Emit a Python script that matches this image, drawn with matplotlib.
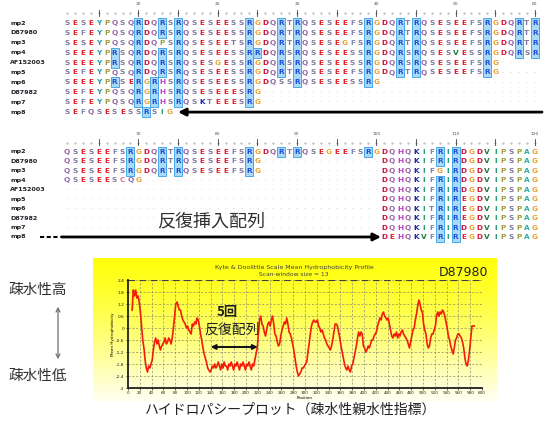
import numpy as np
import matplotlib.pyplot as plt
from matplotlib.patches import Rectangle

plt.rcParams['font.family'] = ['DejaVu Sans']
JP = ['Noto Sans CJK JP', 'DejaVu Sans']

W, H = 544, 421

# ---- alignment data ----
names = ['mp2', 'D87980', 'mp3', 'mp4', 'AF152003', 'mp5', 'mp6', 'D87982', 'mp7', 'mp8']

block1 = [
    "SESEYPQSQRDQRSRQSESEESSRGDQRTRQSESEEFSRGDQRTRQSESEEFSRGDQRTR",
    "SEFEYPQSQRDQRSRQSESEESSRGDQRTRQSESEEFSRGDQRTRQSESEEFSRGDQRTR",
    "SESEYPQSQRDQPSRQSESEETSRGDQRTRQSESEGFSRGDQRTRQSESEEFSRGDQRTR",
    "SEEEYPRSQRDQRSRQSESEESSRRDQRSRQSESEESSRGDQRSRQSESVESSRGDQRSR",
    "SEEEYPRSQRDQRSRQSESGESSRGDQRSRQSESEESSRGDQRSRQSESEEFSRG.....",
    "SEFEYPQSQRDQRSRQSESEESSRGDQRTRQSESEEFSRGDQRTRQSESEEFSRG.....",
    "SEEEYPRSERGRHSRQSESEESSRGDQSSRQSESEESSRG....................",
    "SEFEYPQSQRGRHSRQSESEEESRG...................................",
    "SEFEYPQSQRGRHSRQSKTEEESRG...................................",
    "SEFQSESESSRSIG",
]

block2 = [
    "QSESEEFSRGDQRTRQSESEEFSRGDQRTRQSEGEEFSRGDQHQKIFRIRDGDVIPSPAG",
    "QSESEEFSRGDQRTRQSESEEFSRG...............DQHQKIFRIRDGDVIPSPAG",
    "QSESEEFSRGDQRTRQSESEEFSRG...............DQHQKIFGIRDGDVIPSPAG",
    "QSESEESCQG..............................DQHQKIFRIRDGDVIPSPAG",
    "........................................DQHQKIFRIRDGDVIPSPAG",
    "........................................DQHQKIFRIREGDVIPSPAG",
    "........................................DQHQKITRIREGDVIPSPAG",
    "........................................DQHQKIFRIREGDVIPSPAG",
    "........................................DQHQKIFRIRDGDVIPSPAG",
    "                                        DEHQKVFRIREGDVIPSPAG",
]

residue_colors = {
    'S': '#7c7c9c', 'T': '#7c7c9c', 'Q': '#9468a8', 'N': '#9468a8',
    'E': '#e41f2a', 'D': '#d2123c', 'R': '#1f4fd6', 'K': '#1a24a8',
    'H': '#c23ec8', 'G': '#e9a232', 'P': '#9aa03c', 'Y': '#1f9ea0',
    'F': '#7f86aa', 'I': '#1f9e74', 'V': '#1f7c40', 'A': '#2eb09c',
    'C': '#e0708e',
}

# ---- hydrophobicity profile (Kyte & Doolittle, window 13) ----
profile_val = [
    0.9, 1.9, 1.6, 1.9, 1.5, 1.6, 1.3, 0.8, 0.1, -0.6,
    -1.0, -1.6, -2.0, -2.2, -1.9, -2.0, -1.8, -1.6, -1.1, -0.7,
    -0.5, -0.8, -0.6, -0.9, -1.1, -0.9, -0.8, -0.7, -0.5, -0.8,
    -0.7, -0.5, -0.6, -0.8, -0.5, 0.0, 0.6, 1.2, 1.3, 1.1,
    0.9, 0.9, 0.6, 0.4, 0.3, 0.2, 0.0, 0.1, -0.1, -0.2,
    -0.3, 0.2, 0.1, 0.3, 0.2, 0.5, 0.4, 0.1, -0.3, -0.6,
    -1.0, -1.3, -1.5, -1.7, -2.0, -2.1, -2.2, -2.1, -1.9, -2.0,
    -1.8, -2.0, -1.9, -1.7, -1.9, -2.1, -1.8, -2.0, -1.7, -1.9,
    -1.9, -2.1, -1.8, -1.9, -1.7, -1.9, -2.1, -1.8, -1.9, -1.7,
    -1.9, -2.1, -1.8, -1.9, -1.7, -1.9, -2.1, -1.8, -1.9, -1.7,
    -1.9, -2.1, -1.8, -1.9, -1.6, -1.3, -1.0, -0.3, 0.4, 0.6,
    0.2, 0.1, -0.2, -0.4, -0.1, 0.2, 0.3, 0.1, 0.4, 0.6,
    0.2, -0.3, -0.4, -0.7, -0.9, -0.8, -0.4, -0.1, 0.1, 0.3,
    0.2, 0.5, 0.2, -0.2, -0.3, -0.5, -0.8, -1.1, -1.5, -1.9,
    -2.2, -2.4, -2.3, -2.2, -2.0, -2.0, -1.9, -1.8, -1.7, -1.2,
    -0.8, -0.3, 0.1, 0.3, 0.4, 0.3, 0.3, 0.4, 0.1, 0.0,
    -0.2, -0.1, -0.3, -0.5, -0.6, -0.8, -0.9, -1.0, -1.1, -0.9,
    -0.6, -0.2, 0.2, 0.2, 0.1, -0.2, -0.5, -0.9, -1.2, -1.5,
    -1.8, -2.0, -2.1, -1.9, -2.1, -2.2, -1.9, -1.8, -1.5, -1.2,
    -0.9, -0.5, -0.2, -0.4, -0.2, -0.3, -0.9, -1.0, -1.2, -1.1,
    -0.9, -1.0, -0.8, -0.6, -0.6, -0.4, -0.3, -0.2, 0.1, 0.3,
    0.5, 0.4, 0.7, 0.8, 0.6, 0.5, 0.4, 0.5, 0.2, -0.1,
    -0.4, -0.5, -0.3, -0.4, -0.2, -0.5, -0.3, -0.4, -0.2, -0.1,
    -0.3, -0.4, -0.5, -0.6, -0.8, -1.0, -0.7, -0.4, -0.1, 0.0,
    0.4, 0.7, 1.1, 1.4, 1.2, 0.9, 0.8, 0.2, -0.1, -0.3,
    -0.8, -1.0, -0.9, -0.5, -0.3, -0.3, -0.1, 0.1, 0.6, 0.8,
    0.6, 0.8, 0.7, 0.9, 0.8, 0.6, 0.3, 0.0, -0.4, -0.6,
    -0.9, -1.1, -1.3, -1.0, -0.6, -0.5, -0.3, -0.3, -0.4, -0.5,
    -0.7, -1.0, -1.5, -1.8, -1.9, -1.6, -1.1, -0.5, 0.1, 0.1,
    0.1,
]
profile_pos = np.arange(7, 7 + 2 * len(profile_val), 2)
x_ticks = np.arange(0, 601, 20)
y_ticks = [-3.0, -2.4, -1.8, -1.2, -0.6, 0, 0.6, 1.2, 1.8, 2.4]

fig = plt.figure(figsize=(W / 100, H / 100), dpi=100)
fig.patch.set_facecolor('white')


def px_axes(x0, y0, x1, y1):
    return fig.add_axes([x0 / W, 1 - y1 / H, (x1 - x0) / W, (y1 - y0) / H])


COL0, COLW = 67, 7.93   # pixel x of column 1, column width


def draw_block(seqs, start, y0, y1, row0, step):
    ax = px_axes(0, y0, W, y1)
    ax.set_xlim(1 - COL0 / COLW, 1 + (W - COL0) / COLW)
    ax.set_ylim((y1 - row0) / step, (y0 - row0) / step)
    ax.axis('off')
    ncol = 60
    # ruler
    ax.plot(np.arange(1, ncol + 1), np.full(ncol, -1.0), ls='none', marker='.',
            ms=1.2, color='#b8b8c0')
    for c in range(1, ncol + 1):
        pos = start + c - 1
        if pos % 5 == 0:
            ax.plot([c, c], [-1.35, -0.7], color='#404048', lw=0.6)
        if pos % 10 == 0:
            ax.text(c, -1.9, str(pos), ha='center', va='center', fontsize=3.2,
                    color='#505058')
    # names
    for r, nm in enumerate(names):
        ax.text(1 - (COL0 - 10) / COLW, r, nm, ha='left', va='center', fontsize=4.6,
                fontweight='bold', color='#202028')
    # R boxes (merged down a column)
    for c in range(ncol):
        r = 0
        while r < len(seqs):
            if c < len(seqs[r]) and seqs[r][c] == 'R':
                r2 = r
                while r2 + 1 < len(seqs) and c < len(seqs[r2 + 1]) and seqs[r2 + 1][c] == 'R':
                    r2 += 1
                ax.add_patch(Rectangle((c + 0.5, r - 0.5), 1, r2 - r + 1, fc='#a8d9f6',
                                       ec='#46a8e8', lw=0.7, zorder=1))
                r = r2 + 1
            else:
                r += 1
    # letters
    for r, s in enumerate(seqs):
        for c, ch in enumerate(s):
            if ch == ' ':
                continue
            if ch == '.':
                ax.text(c + 1, r, '-', ha='center', va='center', fontsize=4,
                        color='#c4c4cc', zorder=2)
            else:
                ax.text(c + 1, r, ch, ha='center', va='center', fontsize=5.3,
                        fontweight='bold', color=residue_colors.get(ch, '#444'), zorder=2)
    return ax


ax1 = draw_block(block1, 1, 0, 122, 23, 9.9)
ax1.annotate('', xy=(15, 9), xytext=(60.9, 9),
             arrowprops=dict(arrowstyle='-|>', lw=2, color='black', mutation_scale=11,
                             shrinkA=0, shrinkB=0))

ax2 = draw_block(block2, 61, 124, 250, 152, 9.44)
ax2.plot([-2.4, -0.1], [9, 9], color='black', lw=1.5, ls=(0, (2, 1.2)))
ax2.annotate('', xy=(40.6, 9), xytext=(0.3, 9),
             arrowprops=dict(arrowstyle='-|>', lw=2, color='black', mutation_scale=11,
                             shrinkA=0, shrinkB=0))
ax2.text(12.3, 7.4, '反復挿入配列', family=JP, fontsize=13, ha='left', va='center',
         color='#303030')

# ---- hydropathy panel ----
bg = px_axes(93, 258, 497, 402)
grad = np.linspace(0, 1, 200)[:, None]
top = np.array([1.0, 1.0, 0.05])
bot = np.array([1.0, 1.0, 0.96])
img = top[None, None, :] * (1 - grad[..., None] ** 1.3) + bot[None, None, :] * grad[..., None] ** 1.3
bg.imshow(np.repeat(img, 2, axis=1), aspect='auto', extent=[0, 1, 0, 1])
bg.axis('off')

ax = px_axes(128, 280, 482, 388)
ax.patch.set_alpha(0)
ax.set_xlim(0, 600)
ax.set_ylim(-3.0, 2.4)
ax.set_xticks(x_ticks)
ax.set_xticklabels([str(v) for v in x_ticks], fontsize=3)
ax.set_yticks(y_ticks)
ax.set_yticklabels(['%g' % v for v in y_ticks], fontsize=3.2)
ax.tick_params(length=1.5, width=0.5, pad=1, colors='#202020')
for v in x_ticks[1:]:
    ax.axvline(v, color='#8a8a70', lw=0.5, ls=(0, (3, 2.5)), zorder=0)
for v in y_ticks[1:]:
    ax.axhline(v, color='#8a8a70', lw=0.5, ls=(0, (3, 2.5)), zorder=0)
ax.axhline(2.4, color='#404040', lw=0.8, ls=(0, (6, 4)))
for side in ('top', 'right'):
    ax.spines[side].set_visible(False)
for side in ('left', 'bottom'):
    ax.spines[side].set_linewidth(1.3)
    ax.spines[side].set_color('#202020')
ax.plot(profile_pos, profile_val, color='#f21c0a', lw=1.2, zorder=3)
ax.set_xlabel('Position', fontsize=3, labelpad=0.5)
ax.set_ylabel('Mean Hydrophobicity', fontsize=3, labelpad=1)
ax.annotate('', xy=(140, -0.95), xytext=(220, -0.95),
            arrowprops=dict(arrowstyle='<|-|>', lw=1.4, color='#101010', mutation_scale=7,
                            shrinkA=0, shrinkB=0), zorder=4)
ax.text(168, 0.8, '5回', family=JP, fontsize=9.5, fontweight='bold', ha='center',
        va='center', color='#202020')
ax.text(177, -0.1, '反復配列', family=JP, fontsize=10, ha='center', va='center',
        color='#202020')

fig.text(294 / W, 1 - 268 / H, 'Kyte & Doolittle Scale Mean Hydrophobicity Profile',
         fontsize=4.5, ha='center', va='center', color='#404040')
fig.text(294 / W, 1 - 275 / H, 'Scan-window size = 13', fontsize=4.3, ha='center',
         va='center', color='#404040')
fig.text(488 / W, 1 - 272 / H, 'D87980', fontsize=9, ha='right', va='center',
         color='#202020')

fig.text(38 / W, 1 - 290 / H, '疎水性高', family=JP, fontsize=10.5, ha='center',
         va='center', color='#303030')
fig.text(38 / W, 1 - 376 / H, '疎水性低', family=JP, fontsize=10.5, ha='center',
         va='center', color='#303030')
fig.patches.append(plt.matplotlib.patches.FancyArrowPatch(
    (58 / W, 1 - 304 / H), (58 / W, 1 - 362 / H), transform=fig.transFigure,
    arrowstyle='<->', mutation_scale=7, lw=0.9, color='#707070'))

fig.text(291 / W, 1 - 410 / H, 'ハイドロパシープロット（疎水性親水性指標）', family=JP,
         fontsize=10, ha='center', va='center', color='#202020')

fig.savefig('out.png', dpi=100)
